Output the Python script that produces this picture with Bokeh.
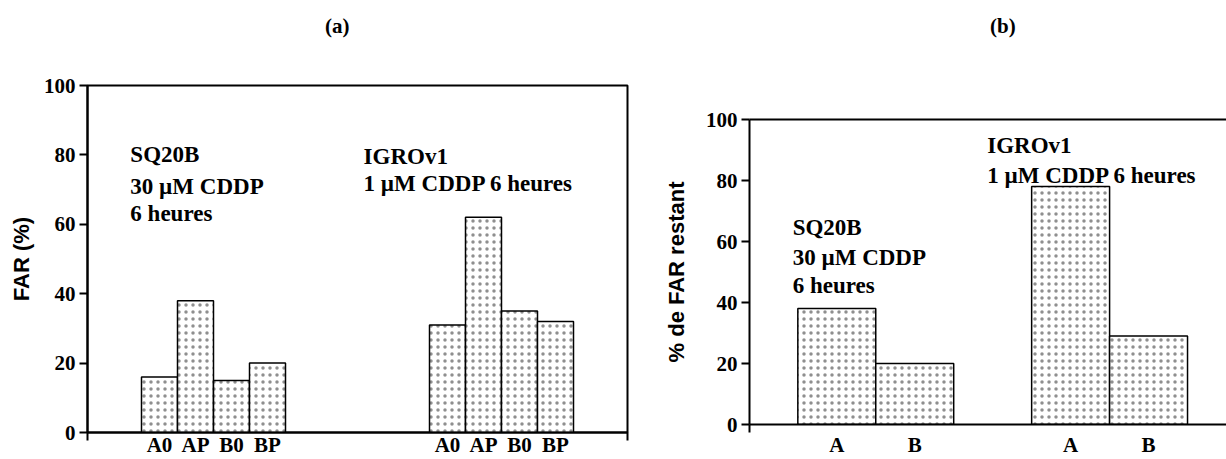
from bokeh.plotting import figure
from bokeh.layouts import row
from bokeh.models import Range1d, FixedTicker, LinearAxis
from bokeh.core.properties import value
from bokeh.embed import file_html
from bokeh.resources import INLINE

# ---- data ----
cats_a = ["A0", "AP", "B0", "BP"]
sq20b_a = [16, 38, 15, 20]
igrov1_a = [31, 62, 35, 32]

cats_b = ["A", "B"]
sq20b_b = [38, 20]
igrov1_b = [78, 29]

y_ticks = [0, 20, 40, 60, 80, 100]

SERIF = "Liberation Serif"
SANS = "Liberation Sans"


def style_y(p, label, label_standoff):
    ax = p.yaxis[0]
    ax.ticker = FixedTicker(ticks=y_ticks)
    ax.axis_line_width = 2
    ax.axis_line_color = "black"
    ax.major_tick_line_width = 2
    ax.major_tick_line_color = "black"
    ax.major_tick_in = 0
    ax.major_tick_out = 8
    ax.minor_tick_line_color = None
    ax.major_label_text_font = SERIF
    ax.major_label_text_font_style = "bold"
    ax.major_label_text_font_size = "21px"
    ax.major_label_text_color = "black"
    ax.major_label_standoff = 4
    ax.axis_label = label
    ax.axis_label_text_font = SANS
    ax.axis_label_text_font_style = "bold"
    ax.axis_label_text_font_size = "22px"
    ax.axis_label_text_color = "black"
    ax.axis_label_standoff = label_standoff


def style_x(p, ticks, labels, minor, standoff):
    ax = p.xaxis[0]
    ax.ticker = FixedTicker(ticks=ticks, minor_ticks=minor)
    ax.major_label_overrides = {t: l for t, l in zip(ticks, labels)}
    ax.axis_line_width = 2
    ax.axis_line_color = "black"
    ax.major_tick_line_color = None
    ax.major_tick_in = 0
    ax.major_tick_out = 0
    ax.minor_tick_line_color = "black"
    ax.minor_tick_line_width = 2
    ax.minor_tick_in = 0
    ax.minor_tick_out = 8
    ax.major_label_text_font = SERIF
    ax.major_label_text_font_style = "bold"
    ax.major_label_text_font_size = "21px"
    ax.major_label_text_color = "black"
    ax.major_label_standoff = standoff


def panel_title(p, xpos, text, standoff, line):
    ax = LinearAxis(ticker=FixedTicker(ticks=[xpos]), major_label_overrides={xpos: text},
                    major_tick_line_color=None, minor_tick_line_color=None,
                    major_tick_out=0, major_tick_in=0, major_label_standoff=standoff,
                    major_label_text_font=SERIF, major_label_text_font_style="bold",
                    major_label_text_font_size="21px", major_label_text_color="black")
    if line:
        ax.axis_line_width = 2
        ax.axis_line_color = "black"
    else:
        ax.axis_line_color = None
    p.add_layout(ax, "above")


bar_style = dict(fill_color="white", line_color="black", line_width=1.5,
                 hatch_pattern="dot", hatch_color="#333333", hatch_scale=7,
                 hatch_weight=1, hatch_alpha=0.55)

txt = dict(text_font=value(SERIF), text_font_style="bold", text_font_size="23px",
           text_baseline="alphabetic", text_align="left", text_color="black")

# ---------------- panel (a) ----------------
p1 = figure(width=660, height=459, x_range=Range1d(0, 15), y_range=Range1d(0, 100),
            output_backend="svg", toolbar_location=None,
            min_border_left=87, min_border_right=33, min_border_top=85, min_border_bottom=27)
p1.grid.visible = False
p1.outline_line_color = "black"
p1.outline_line_width = 2
p1.outline_line_alpha = 1

g1_start, g2_start = 2, 10
x1 = [g1_start + i for i in range(len(cats_a))]
x2 = [g2_start + i for i in range(len(cats_a))]
p1.vbar(x=x1, top=sq20b_a, width=1, **bar_style)
p1.vbar(x=x2, top=igrov1_a, width=1, **bar_style)

style_y(p1, "FAR (%)", 7)
style_x(p1, x1 + x2, cats_a + cats_a, [0, 15], -8)
panel_title(p1, 6.94, "(a)", 48, False)

p1.text(x=[1.19] * 3, y=[80.1, 71.0, 63.0],
        text=["SQ20B", "30 µM CDDP", "6 heures"], **txt)
p1.text(x=[7.67] * 2, y=[79.6, 71.8],
        text=["IGROv1", "1 µM CDDP 6 heures"], **txt)

# ---------------- panel (b) ----------------
p2 = figure(width=566, height=459, x_range=Range1d(-0.12, 6.0), y_range=Range1d(0, 100),
            output_backend="svg", toolbar_location=None,
            min_border_left=80, min_border_right=0, min_border_top=119, min_border_bottom=35)
p2.grid.visible = False
p2.outline_line_color = None

xb1 = [1 + i for i in range(len(cats_b))]
xb2 = [4 + i for i in range(len(cats_b))]
p2.vbar(x=xb1, top=sq20b_b, width=1, **bar_style)
p2.vbar(x=xb2, top=igrov1_b, width=1, **bar_style)

style_y(p2, "% de FAR restant", 14)
style_x(p2, xb1 + xb2, cats_b + cats_b, [-0.12], 0)
panel_title(p2, 3.13, "(b)", 82, True)

p2.text(x=[0.434] * 3, y=[64.6, 54.8, 45.6],
        text=["SQ20B", "30 µM CDDP", "6 heures"], **txt)
p2.text(x=[2.93] * 2, y=[91.5, 81.6],
        text=["IGROv1", "1 µM CDDP 6 heures"], **txt)

for p in (p1, p2):
    try:
        p.frame_align = False
    except AttributeError:
        pass

layout = row(p1, p2)
open("out.html", "w").write(file_html(layout, INLINE))
